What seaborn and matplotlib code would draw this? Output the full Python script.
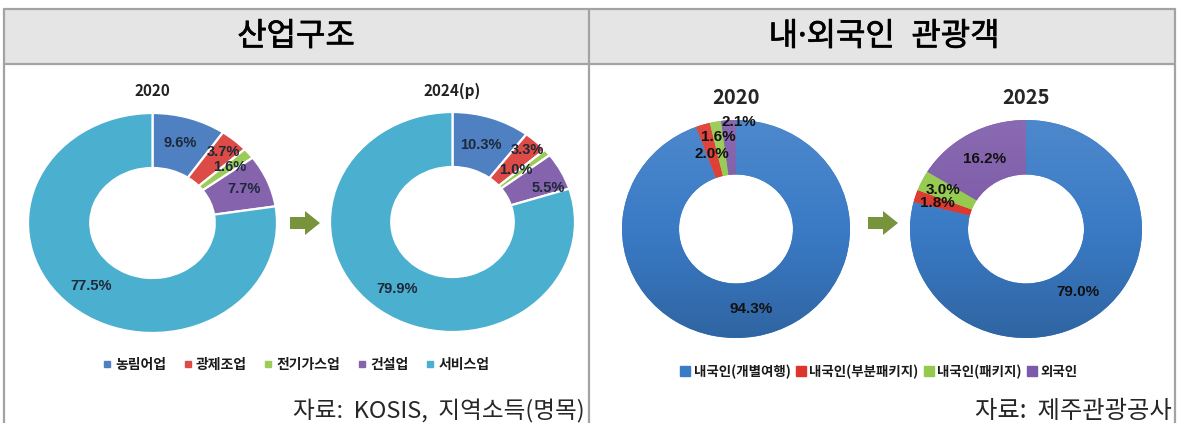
import numpy as np
import matplotlib
matplotlib.use("Agg")
import matplotlib.pyplot as plt
import matplotlib.patches as mpatches
import matplotlib.patheffects as pe
from matplotlib.colors import LinearSegmentedColormap, to_rgb
from matplotlib.lines import Line2D
import seaborn as sns

# data
industry_labels = ['농림어업', '광제조업', '전기가스업', '건설업', '서비스업']
industry_2020 = [9.6, 3.7, 1.6, 7.7, 77.5]
industry_2024 = [10.3, 3.3, 1.0, 5.5, 79.9]

tourist_labels = ['내국인(개별여행)', '내국인(부분패키지)', '내국인(패키지)', '외국인']
tourist_2020 = [94.3, 2.0, 1.6, 2.1]
tourist_2025 = [79.0, 1.8, 3.0, 16.2]

industry_colors = ['#4f81c2', '#dc4b46', '#9bcc58', '#8664ad', '#4bafcf']
tourist_colors = ['#3a7bc6', '#dd352c', '#93c94c', '#7d5aa9']

sns.set_theme(style='white')
plt.rcParams['font.family'] = ['Noto Sans CJK KR', 'DejaVu Sans']

W, H = 1180, 423
fig = plt.figure(figsize=(W / 100, H / 100), dpi=100)
fig.patch.set_facecolor('white')


def px_axes(cx, cy, rx, ry):
    # axes placed in pixel coords (origin top-left)
    return fig.add_axes([(cx - rx) / W, (H - cy - ry) / H, 2 * rx / W, 2 * ry / H])


def shade(c, f):
    r, g, b = to_rgb(c)
    if f > 0:
        return (r + (1 - r) * f, g + (1 - g) * f, b + (1 - b) * f)
    return (r * (1 + f), g * (1 + f), b * (1 + f))


def donut(ax, values, colors, edge, label_r, label_da, fsize, lcolor, gradient=False):
    wedges, _ = ax.pie(values, colors=colors, startangle=90, counterclock=False,
                       radius=1.0, wedgeprops=dict(width=0.5, edgecolor=edge,
                                                   linewidth=1.6 if edge == 'white' else 0))
    if gradient:
        # excel style vertical gradient, lighter on top
        grad = np.linspace(0, 1, 256).reshape(-1, 1)
        for w, c in zip(wedges, colors):
            cmap = LinearSegmentedColormap.from_list('g', [shade(c, 0.1), c, shade(c, -0.18)])
            im = ax.imshow(grad, extent=(-1, 1, -1, 1), origin='upper', cmap=cmap,
                           aspect='auto', zorder=w.get_zorder() + 0.1)
            im.set_clip_path(w)
    for w, v, r, da in zip(wedges, values, label_r, label_da):
        ang = np.deg2rad((w.theta1 + w.theta2) / 2 + da)
        ax.text(r * np.cos(ang), r * np.sin(ang), f'{v:.1f}%', ha='center', va='center',
                fontsize=fsize, fontweight='bold', color=lcolor, family='Liberation Sans',
                zorder=10)
    ax.set_aspect('auto')
    ax.set_xlim(-1, 1)
    ax.set_ylim(-1, 1)
    ax.axis('off')


# header band and frame
border = '#a3a3a3'
fig.patches.append(mpatches.Rectangle((4 / W, (H - 64) / H), (1175 - 4) / W, 55 / H,
                                      transform=fig.transFigure, facecolor='#e5e5e5',
                                      edgecolor='none', zorder=0))
frame_lines = [((4, 4), (9, H)), ((589, 589), (9, H)), ((1175, 1175), (9, H)),
               ((4, 1175), (9, 9)), ((4, 1175), (64, 64))]
for xs, ys in frame_lines:
    fig.add_artist(Line2D([x / W for x in xs], [(H - y) / H for y in ys],
                          color=border, linewidth=1.6, transform=fig.transFigure))

head_font = ['Noto Sans', 'Noto Sans CJK KR']
# thin stroke to get a medium weight look
heavier = [pe.withStroke(linewidth=0.5, foreground='#000000')]
fig.text(296 / W, 1 - 37 / H, '산업구조', ha='center', va='center', fontsize=23,
         color='#000000', family=head_font, path_effects=heavier)
fig.text(884 / W, 1 - 37 / H, '내·외국인  관광객', ha='center', va='center', fontsize=23,
         color='#000000', family=head_font, path_effects=heavier)

# left panel
ax1 = px_axes(152.5, 223, 124.5, 110)
donut(ax1, industry_2020, industry_colors, 'white', [0.76, 0.86, 0.8, 0.8, 0.76],
      [0, 0, 0, 0, 0], 10.5, '#1d2838')
ax2 = px_axes(452.5, 222, 122.5, 110)
donut(ax2, industry_2024, industry_colors, 'white', [0.74, 0.9, 0.7, 0.84, 0.76],
      [0, 0, 3, -6, 0], 10.5, '#1d2838')
fig.text(152 / W, 1 - 91 / H, '2020', ha='center', va='center', fontsize=11, fontweight='bold',
         color='#222222')
fig.text(452 / W, 1 - 91 / H, '2024(p)', ha='center', va='center', fontsize=11, fontweight='bold',
         color='#222222')

# right panel
ax3 = px_axes(736, 229, 114, 109)
donut(ax3, tourist_2020, tourist_colors, 'none', [0.75, 0.72, 0.86, 0.98],
      [0, 0, 0, -5], 11, '#111111', True)
ax4 = px_axes(1026, 229, 116, 109)
donut(ax4, tourist_2025, tourist_colors, 'none', [0.73, 0.8, 0.8, 0.74],
      [0, 0, 0, 0], 11, '#111111', True)
fig.text(736 / W, 1 - 97 / H, '2020', ha='center', va='center', fontsize=14.5, fontweight='bold')
fig.text(1026 / W, 1 - 97 / H, '2025', ha='center', va='center', fontsize=14.5, fontweight='bold')


def arrow(x0, cy):
    pts = [(x0, cy - 6), (x0 + 15, cy - 6), (x0 + 15, cy - 12), (x0 + 30, cy),
           (x0 + 15, cy + 12), (x0 + 15, cy + 6), (x0, cy + 6)]
    pts = [(x / W, (H - y) / H) for x, y in pts]
    fig.patches.append(mpatches.Polygon(pts, closed=True, transform=fig.transFigure,
                                        facecolor='#77933c', edgecolor='none'))


arrow(290, 223)
arrow(868, 223)

# legends
h1 = [Line2D([], [], marker='s', linestyle='none', markersize=4, color=c) for c in industry_colors]
fig.legend(h1, industry_labels, loc='center', bbox_to_anchor=(296 / W, 1 - 365 / H), ncol=5,
           frameon=False, handlelength=0.6, handletextpad=0.3, columnspacing=1.25,
           prop={'size': 10, 'weight': 'bold'}, labelcolor='#1a1a1a')
h2 = [Line2D([], [], marker='s', linestyle='none', markersize=7.5, color=c) for c in tourist_colors]
fig.legend(h2, tourist_labels, loc='center', bbox_to_anchor=(879 / W, 1 - 372 / H), ncol=4,
           frameon=False, handlelength=0.7, handletextpad=0.3, columnspacing=0.4,
           prop={'size': 9.7, 'weight': 'bold'}, labelcolor='#1a1a1a')

# sources
fig.text(585 / W, 1 - 411 / H, '자료:  KOSIS,  지역소득(명목)', ha='right', va='center', fontsize=17)
fig.text(1172 / W, 1 - 411 / H, '자료:  제주관광공사', ha='right', va='center', fontsize=17.5)

fig.savefig('out.png', dpi=100)
